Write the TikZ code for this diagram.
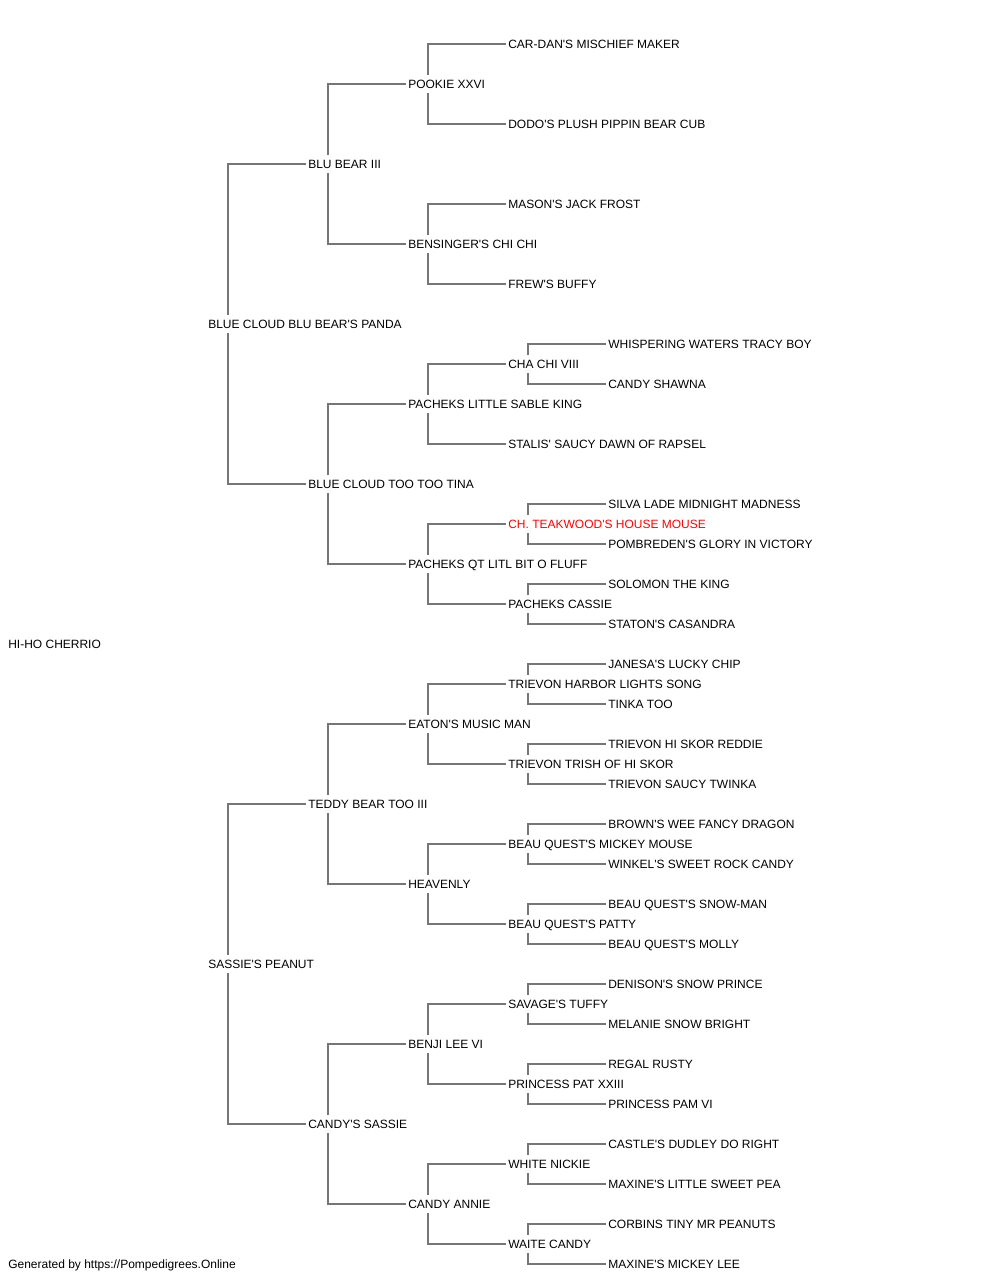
\documentclass[tikz,border=0pt]{standalone}
\usepackage{fontspec}
\setmainfont{Liberation Sans}[Ligatures=TeXOff]
\definecolor{linkgray}{RGB}{118,118,118}
\definecolor{champred}{RGB}{255,0,0}
\tikzset{
	dog/.style={anchor=west, xshift=-1.5pt, inner xsep=1.5pt, inner ysep=3.53pt, text height=6.44pt, text depth=0pt},
	link/.style={linkgray, line width=1pt}
}

\begin{document}
\begin{tikzpicture}[x=0.75pt, y=-0.75pt, node font=\fontsize{9pt}{11pt}\selectfont]
				\useasboundingbox (0,0) rectangle (1000,1280);
				\node[dog] (r) at (8,644) {HI-HO CHERRIO};
				\node[dog] (s) at (208,324) {BLUE CLOUD BLU BEAR'S PANDA};
				\node[dog] (ss) at (308,164) {BLU BEAR III};
				\node[dog] (sss) at (408,84) {POOKIE XXVI};
				\node[dog] (ssss) at (508,44) {CAR-DAN'S MISCHIEF MAKER};
				\node[dog] (sssd) at (508,124) {DODO'S PLUSH PIPPIN BEAR CUB};
				\node[dog] (ssd) at (408,244) {BENSINGER'S CHI CHI};
				\node[dog] (ssds) at (508,204) {MASON'S JACK FROST};
				\node[dog] (ssdd) at (508,284) {FREW'S BUFFY};
				\node[dog] (sd) at (308,484) {BLUE CLOUD TOO TOO TINA};
				\node[dog] (sds) at (408,404) {PACHEKS LITTLE SABLE KING};
				\node[dog] (sdss) at (508,364) {CHA CHI VIII};
				\node[dog] (sdsss) at (608,344) {WHISPERING WATERS TRACY BOY};
				\node[dog] (sdssd) at (608,384) {CANDY SHAWNA};
				\node[dog] (sdsd) at (508,444) {STALIS' SAUCY DAWN OF RAPSEL};
				\node[dog] (sdd) at (408,564) {PACHEKS QT LITL BIT O FLUFF};
				\node[dog, champred] (sdds) at (508,524) {CH. TEAKWOOD'S HOUSE MOUSE};
				\node[dog] (sddss) at (608,504) {SILVA LADE MIDNIGHT MADNESS};
				\node[dog] (sddsd) at (608,544) {POMBREDEN'S GLORY IN VICTORY};
				\node[dog] (sddd) at (508,604) {PACHEKS CASSIE};
				\node[dog] (sddds) at (608,584) {SOLOMON THE KING};
				\node[dog] (sdddd) at (608,624) {STATON'S CASANDRA};
				\node[dog] (d) at (208,964) {SASSIE'S PEANUT};
				\node[dog] (ds) at (308,804) {TEDDY BEAR TOO III};
				\node[dog] (dss) at (408,724) {EATON'S MUSIC MAN};
				\node[dog] (dsss) at (508,684) {TRIEVON HARBOR LIGHTS SONG};
				\node[dog] (dssss) at (608,664) {JANESA'S LUCKY CHIP};
				\node[dog] (dsssd) at (608,704) {TINKA TOO};
				\node[dog] (dssd) at (508,764) {TRIEVON TRISH OF HI SKOR};
				\node[dog] (dssds) at (608,744) {TRIEVON HI SKOR REDDIE};
				\node[dog] (dssdd) at (608,784) {TRIEVON SAUCY TWINKA};
				\node[dog] (dsd) at (408,884) {HEAVENLY};
				\node[dog] (dsds) at (508,844) {BEAU QUEST'S MICKEY MOUSE};
				\node[dog] (dsdss) at (608,824) {BROWN'S WEE FANCY DRAGON};
				\node[dog] (dsdsd) at (608,864) {WINKEL'S SWEET ROCK CANDY};
				\node[dog] (dsdd) at (508,924) {BEAU QUEST'S PATTY};
				\node[dog] (dsdds) at (608,904) {BEAU QUEST'S SNOW-MAN};
				\node[dog] (dsddd) at (608,944) {BEAU QUEST'S MOLLY};
				\node[dog] (dd) at (308,1124) {CANDY'S SASSIE};
				\node[dog] (dds) at (408,1044) {BENJI LEE VI};
				\node[dog] (ddss) at (508,1004) {SAVAGE'S TUFFY};
				\node[dog] (ddsss) at (608,984) {DENISON'S SNOW PRINCE};
				\node[dog] (ddssd) at (608,1024) {MELANIE SNOW BRIGHT};
				\node[dog] (ddsd) at (508,1084) {PRINCESS PAT XXIII};
				\node[dog] (ddsds) at (608,1064) {REGAL RUSTY};
				\node[dog] (ddsdd) at (608,1104) {PRINCESS PAM VI};
				\node[dog] (ddd) at (408,1204) {CANDY ANNIE};
				\node[dog] (ddds) at (508,1164) {WHITE NICKIE};
				\node[dog] (dddss) at (608,1144) {CASTLE'S DUDLEY DO RIGHT};
				\node[dog] (dddsd) at (608,1184) {MAXINE'S LITTLE SWEET PEA};
				\node[dog] (dddd) at (508,1244) {WAITE CANDY};
				\node[dog] (dddds) at (608,1224) {CORBINS TINY MR PEANUTS};
				\node[dog] (ddddd) at (608,1264) {MAXINE'S MICKEY LEE};
				\foreach \p in {s,ss,sss,ssd,sd,sds,sdss,sdd,sdds,sddd,d,ds,dss,dsss,dssd,dsd,dsds,dsdd,dd,dds,ddss,ddsd,ddd,ddds,dddd} {
					\draw[link] ([xshift=16.5pt]\p.north west) |- (\p s.west);
					\draw[link] ([xshift=16.5pt]\p.south west) |- (\p d.west);
				}
				\node[dog] (credit) at (8,1264) {Generated by https://Pompedigrees.Online};
			\end{tikzpicture}
\end{document}
